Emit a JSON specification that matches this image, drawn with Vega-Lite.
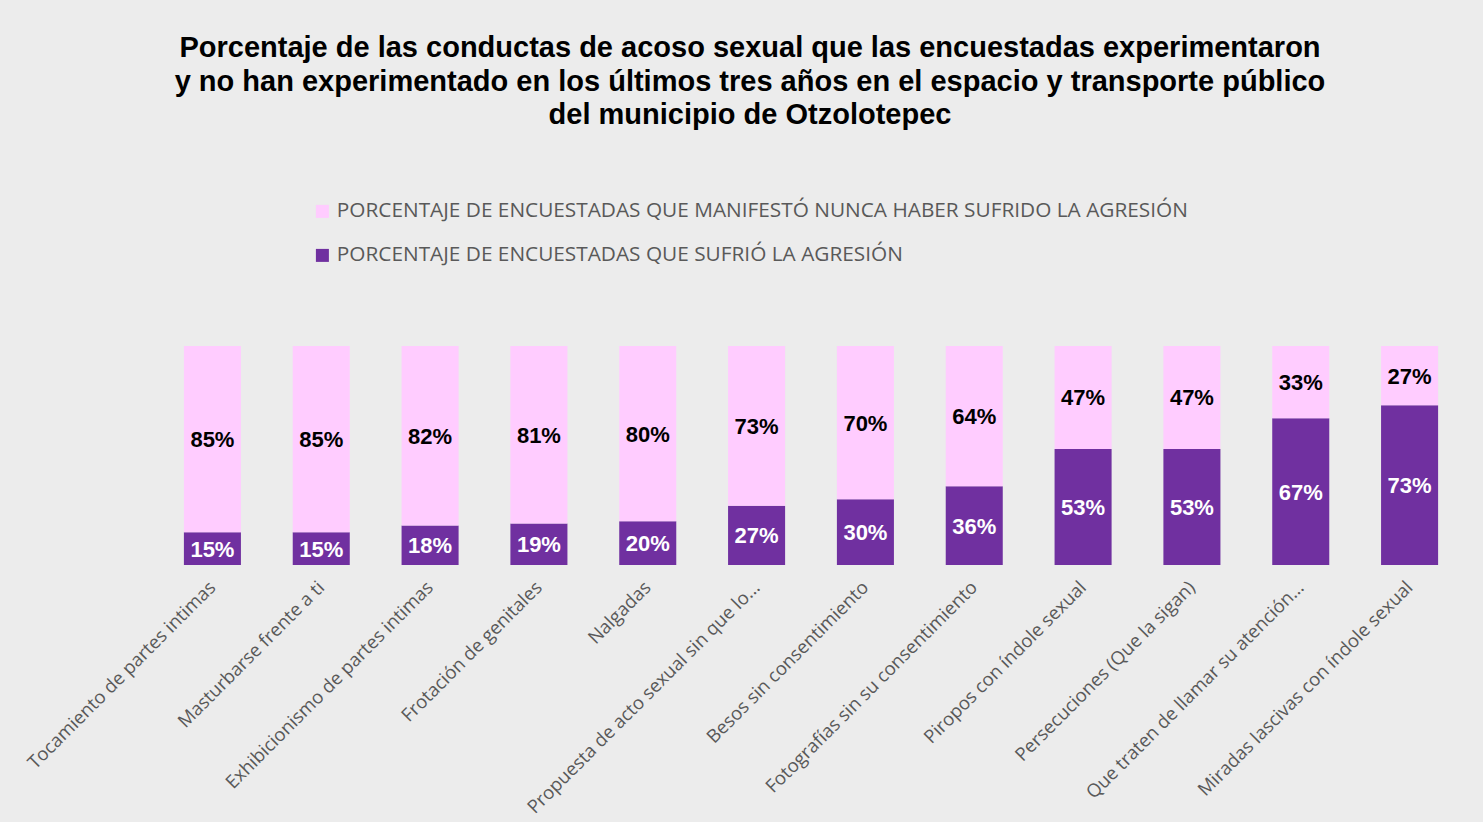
{
  "$schema": "https://vega.github.io/schema/vega-lite/v6.json",
  "width": 1306,
  "height": 219,
  "autosize": {"type": "none"},
  "padding": {"left": 158, "top": 346, "right": 19, "bottom": 257},
  "background": "#ececec",
  "title": {
    "text": ["Porcentaje de las conductas de acoso sexual que las encuestadas experimentaron", "y no han experimentado en los últimos tres años en el espacio y transporte público", "del municipio de Otzolotepec"],
    "font": "Liberation Sans",
    "fontSize": 29,
    "fontWeight": "bold",
    "color": "#000000",
    "lineHeight": 33.5,
    "anchor": "middle",
    "frame": "group",
    "dx": -61,
    "offset": 71
  },
  "data": {
    "values": [
      {"conducta": "Tocamiento de partes intimas", "serie": "PORCENTAJE DE ENCUESTADAS QUE SUFRIÓ LA AGRESIÓN", "valor": 0.15},
      {"conducta": "Tocamiento de partes intimas", "serie": "PORCENTAJE DE ENCUESTADAS QUE MANIFESTÓ NUNCA HABER SUFRIDO LA AGRESIÓN", "valor": 0.85},
      {"conducta": "Masturbarse frente a ti", "serie": "PORCENTAJE DE ENCUESTADAS QUE SUFRIÓ LA AGRESIÓN", "valor": 0.15},
      {"conducta": "Masturbarse frente a ti", "serie": "PORCENTAJE DE ENCUESTADAS QUE MANIFESTÓ NUNCA HABER SUFRIDO LA AGRESIÓN", "valor": 0.85},
      {"conducta": "Exhibicionismo de partes intimas", "serie": "PORCENTAJE DE ENCUESTADAS QUE SUFRIÓ LA AGRESIÓN", "valor": 0.18},
      {"conducta": "Exhibicionismo de partes intimas", "serie": "PORCENTAJE DE ENCUESTADAS QUE MANIFESTÓ NUNCA HABER SUFRIDO LA AGRESIÓN", "valor": 0.82},
      {"conducta": "Frotación de genitales", "serie": "PORCENTAJE DE ENCUESTADAS QUE SUFRIÓ LA AGRESIÓN", "valor": 0.19},
      {"conducta": "Frotación de genitales", "serie": "PORCENTAJE DE ENCUESTADAS QUE MANIFESTÓ NUNCA HABER SUFRIDO LA AGRESIÓN", "valor": 0.81},
      {"conducta": "Nalgadas", "serie": "PORCENTAJE DE ENCUESTADAS QUE SUFRIÓ LA AGRESIÓN", "valor": 0.20},
      {"conducta": "Nalgadas", "serie": "PORCENTAJE DE ENCUESTADAS QUE MANIFESTÓ NUNCA HABER SUFRIDO LA AGRESIÓN", "valor": 0.80},
      {"conducta": "Propuesta de acto sexual sin que lo...", "serie": "PORCENTAJE DE ENCUESTADAS QUE SUFRIÓ LA AGRESIÓN", "valor": 0.27},
      {"conducta": "Propuesta de acto sexual sin que lo...", "serie": "PORCENTAJE DE ENCUESTADAS QUE MANIFESTÓ NUNCA HABER SUFRIDO LA AGRESIÓN", "valor": 0.73},
      {"conducta": "Besos sin consentimiento", "serie": "PORCENTAJE DE ENCUESTADAS QUE SUFRIÓ LA AGRESIÓN", "valor": 0.30},
      {"conducta": "Besos sin consentimiento", "serie": "PORCENTAJE DE ENCUESTADAS QUE MANIFESTÓ NUNCA HABER SUFRIDO LA AGRESIÓN", "valor": 0.70},
      {"conducta": "Fotografías sin su consentimiento", "serie": "PORCENTAJE DE ENCUESTADAS QUE SUFRIÓ LA AGRESIÓN", "valor": 0.36},
      {"conducta": "Fotografías sin su consentimiento", "serie": "PORCENTAJE DE ENCUESTADAS QUE MANIFESTÓ NUNCA HABER SUFRIDO LA AGRESIÓN", "valor": 0.64},
      {"conducta": "Piropos con índole sexual", "serie": "PORCENTAJE DE ENCUESTADAS QUE SUFRIÓ LA AGRESIÓN", "valor": 0.53},
      {"conducta": "Piropos con índole sexual", "serie": "PORCENTAJE DE ENCUESTADAS QUE MANIFESTÓ NUNCA HABER SUFRIDO LA AGRESIÓN", "valor": 0.47},
      {"conducta": "Persecuciones (Que la sigan)", "serie": "PORCENTAJE DE ENCUESTADAS QUE SUFRIÓ LA AGRESIÓN", "valor": 0.53},
      {"conducta": "Persecuciones (Que la sigan)", "serie": "PORCENTAJE DE ENCUESTADAS QUE MANIFESTÓ NUNCA HABER SUFRIDO LA AGRESIÓN", "valor": 0.47},
      {"conducta": "Que traten de llamar su atención...", "serie": "PORCENTAJE DE ENCUESTADAS QUE SUFRIÓ LA AGRESIÓN", "valor": 0.67},
      {"conducta": "Que traten de llamar su atención...", "serie": "PORCENTAJE DE ENCUESTADAS QUE MANIFESTÓ NUNCA HABER SUFRIDO LA AGRESIÓN", "valor": 0.33},
      {"conducta": "Miradas lascivas con índole sexual", "serie": "PORCENTAJE DE ENCUESTADAS QUE SUFRIÓ LA AGRESIÓN", "valor": 0.73},
      {"conducta": "Miradas lascivas con índole sexual", "serie": "PORCENTAJE DE ENCUESTADAS QUE MANIFESTÓ NUNCA HABER SUFRIDO LA AGRESIÓN", "valor": 0.27}
    ]
  },
  "transform": [
    {"stack": "valor", "groupby": ["conducta"], "sort": [{"field": "serie", "order": "descending"}], "as": ["y0", "y1"]}
  ],
  "encoding": {
    "x": {
      "field": "conducta",
      "type": "nominal",
      "sort": null,
      "scale": {"paddingInner": 0.476, "paddingOuter": 0.238},
      "axis": {
        "title": null,
        "labelAngle": -45,
        "labelAlign": "right",
        "labelBaseline": "middle",
        "labelFont": "Open Sans",
        "labelFontSize": 18.5,
        "labelColor": "#595959",
        "labelPadding": 19,
        "labelLimit": 400,
        "ticks": false,
        "domain": false
      }
    }
  },
  "layer": [
    {
      "mark": {"type": "bar"},
      "encoding": {
        "y": {
          "field": "y0",
          "type": "quantitative",
          "scale": {"domain": [0, 1]},
          "axis": null
        },
        "y2": {"field": "y1"},
        "color": {
          "field": "serie",
          "type": "nominal",
          "scale": {
            "domain": ["PORCENTAJE DE ENCUESTADAS QUE MANIFESTÓ NUNCA HABER SUFRIDO LA AGRESIÓN", "PORCENTAJE DE ENCUESTADAS QUE SUFRIÓ LA AGRESIÓN"],
            "range": ["#FFCCFF", "#7030A0"]
          },
          "legend": {
            "title": null,
            "orient": "none",
            "legendX": 154,
            "legendY": -145,
            "direction": "vertical",
            "symbolType": "square",
            "symbolSize": 169,
            "symbolStrokeWidth": 0,
            "labelFont": "Open Sans",
            "labelFontSize": 20.8,
            "labelColor": "#595959",
            "labelLimit": 1200,
            "labelOffset": 4,
            "rowPadding": 22
          }
        }
      }
    },
    {
      "transform": [
        {"fold": ["y0", "y1"], "as": ["extremo", "pos"]},
        {"aggregate": [{"op": "mean", "field": "pos", "as": "medio"}], "groupby": ["conducta", "serie", "valor"]}
      ],
      "mark": {"type": "text", "font": "Liberation Sans", "fontSize": 22, "fontWeight": "bold", "baseline": "middle", "dy": 1},
      "encoding": {
        "y": {"field": "medio", "type": "quantitative", "axis": null},
        "text": {"field": "valor", "type": "quantitative", "format": ".0%"},
        "color": {
          "condition": {"test": "datum.serie === 'PORCENTAJE DE ENCUESTADAS QUE SUFRIÓ LA AGRESIÓN'", "value": "#ffffff"},
          "value": "#000000"
        }
      }
    }
  ],
  "config": {"view": {"stroke": null}}
}
